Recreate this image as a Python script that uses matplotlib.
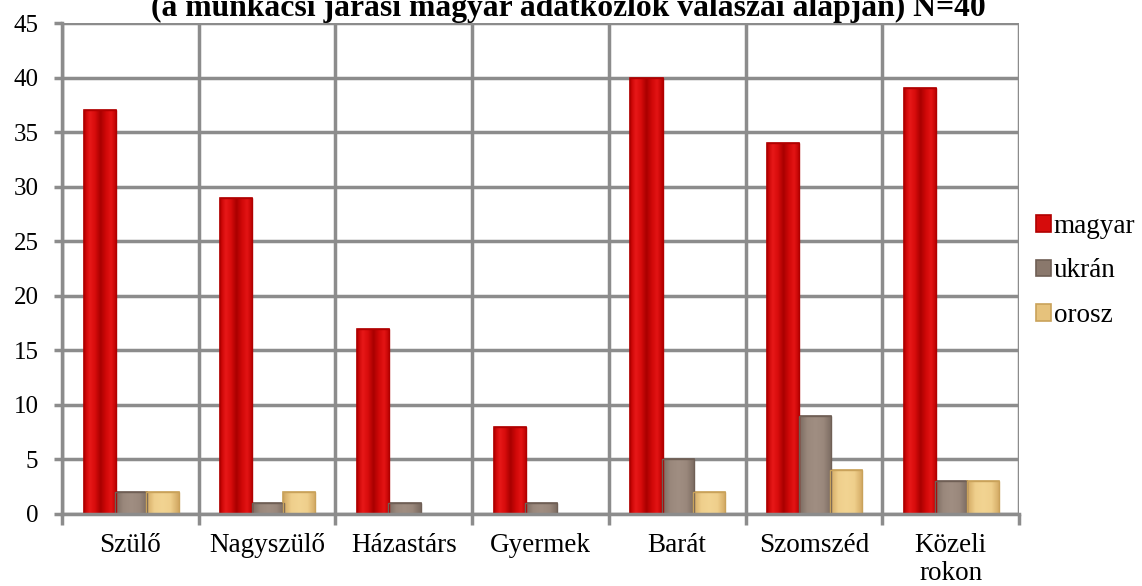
import matplotlib
matplotlib.use("Agg")
import matplotlib.pyplot as plt
import numpy as np
from matplotlib.colors import LinearSegmentedColormap

categories = ["Szülő", "Nagyszülő", "Házastárs", "Gyermek", "Barát", "Szomszéd", "Közeli\nrokon"]
series_names = ["magyar", "ukrán", "orosz"]
magyar = [37, 29, 17, 8, 40, 34, 39]
ukran = [2, 1, 1, 1, 5, 9, 3]
orosz = [2, 2, 0, 0, 2, 4, 3]
title = "(a munkácsi járási magyar adatközlők válaszai alapján) N=40"

plt.rcParams['font.family'] = ['Liberation Serif', 'DejaVu Serif']

fig = plt.figure(figsize=(11.42, 5.86), dpi=100)
ax = fig.add_axes([62/1142, 1-514/586, (1019-62)/1142, (514-23)/586])

x = np.arange(len(categories))
w = 0.235
offs = [-0.225, 0.005, 0.235]
colors = ["#d60c0c", "#8a786c", "#e6c27c"]
edges = ["#b00000", "#6f5f55", "#c9a25a"]
grads = [
    ["#c00000", "#e81818", "#d80c0c", "#a80000", "#d00808", "#e41414", "#b80000"],
    ["#7a6a60", "#9a887c", "#a08e82", "#9a887c", "#7a6a60"],
    ["#d2a862", "#efcf8c", "#f2d492", "#efcf8c", "#d2a862"],
]
for vals, off, c, e, g, name in zip([magyar, ukran, orosz], offs, colors, edges, grads, series_names):
    bars = ax.bar(x + off, vals, w, color=c, edgecolor=e, linewidth=1.2, label=name, zorder=3)
    cmap = LinearSegmentedColormap.from_list("g", g)
    grad = np.linspace(0, 1, 64).reshape(1, -1)
    for b in bars:
        if b.get_height() <= 0:
            continue
        x0 = b.get_x(); x1 = x0 + b.get_width()
        im = ax.imshow(grad, cmap=cmap, aspect='auto', extent=[x0, x1, 0, b.get_height()],
                       zorder=3.1, interpolation='bicubic')
        im.set_clip_path(b)
        ax.add_patch(plt.Rectangle((x0, 0), b.get_width(), b.get_height(), fill=False,
                                   edgecolor=e, linewidth=1.0, zorder=3.2))

ax.set_xlim(-0.5, len(categories) - 0.5)
ax.set_ylim(0, 45)
ax.set_aspect('auto')
ax.set_yticks(np.arange(0, 46, 5))
ax.set_xticks(np.arange(-0.5, len(categories), 1.0))
ax.set_xticklabels([])
ax.set_xticks(x, minor=True)
ax.set_xticklabels(categories, minor=True, linespacing=1.15)
ax.tick_params(axis='x', which='minor', length=0, pad=14, labelsize=19.5)
ax.tick_params(axis='x', which='major', length=8, width=2.5, color="#8c8c8c")
ax.tick_params(axis='y', length=6, width=2.5, color="#8c8c8c", labelsize=18, pad=11)
ax.grid(True, which='major', color="#8c8c8c", linewidth=2.5, zorder=0)
for s in ["top", "right"]:
    ax.spines[s].set_visible(False)
for s in ["left", "bottom"]:
    ax.spines[s].set_color("#8c8c8c")
    ax.spines[s].set_linewidth(2.5)
    ax.spines[s].set_zorder(4)

leg = ax.legend(loc='center left', bbox_to_anchor=(1.018, 0.495), frameon=False,
                fontsize=19.5, handlelength=0.55, handleheight=0.55, handletextpad=0.1,
                labelspacing=0.72, borderaxespad=0, borderpad=0)

fig.text(568/1142, 1 - 16/586, title, ha='center', va='baseline', fontsize=22.8,
         fontweight='bold')

fig.savefig("out.png", dpi=100)
